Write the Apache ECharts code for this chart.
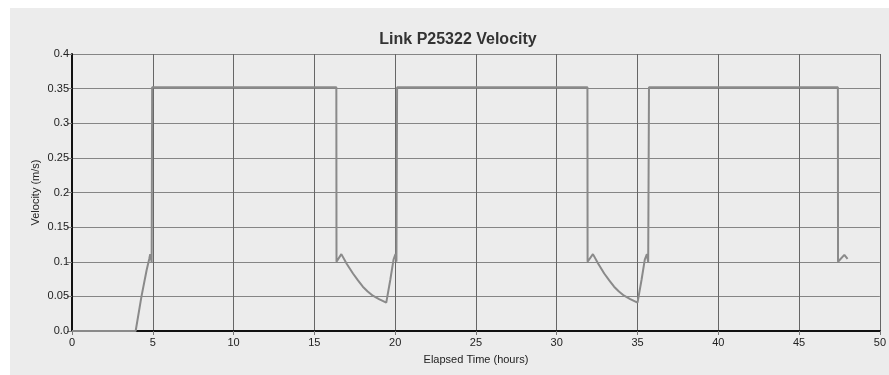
<!DOCTYPE html>
<html>
<head>
<meta charset="utf-8">
<style>
  html, body { margin: 0; padding: 0; background: #ffffff; }
  #chart { width: 889px; height: 375px; }
</style>
<script src="https://cdn.jsdelivr.net/npm/echarts@6/dist/echarts.min.js"></script>
</head>
<body>
<div id="chart"></div>
<script>
// Elapsed time (hours) and link velocity (m/s) samples
const timeHours = [
  0, 3.94, 4.3, 4.62, 4.78, 4.84, 4.93, 4.96,
  16.36, 16.37, 16.41, 16.67, 17.0, 17.39, 17.7, 18.0, 18.3, 18.62, 19.0, 19.45, 19.7, 19.9, 20.02, 20.08, 20.12,
  31.9, 31.91, 31.95, 32.24, 32.57, 32.94, 33.25, 33.55, 33.85, 34.17, 34.55, 35.0, 35.25, 35.45, 35.58, 35.66, 35.71,
  47.4, 47.41, 47.45, 47.8, 48.0
];
const velocity = [
  0, 0, 0.05, 0.088, 0.104, 0.111, 0.099, 0.352,
  0.352, 0.1, 0.1, 0.111, 0.097, 0.083, 0.073, 0.064, 0.057, 0.051, 0.046, 0.041, 0.074, 0.103, 0.111, 0.1, 0.352,
  0.352, 0.1, 0.1, 0.111, 0.097, 0.083, 0.073, 0.064, 0.057, 0.051, 0.046, 0.041, 0.074, 0.103, 0.111, 0.099, 0.352,
  0.352, 0.1, 0.1, 0.11, 0.104
];
const xTicks = { min: 0, max: 50, step: 5 };
const yTicks = { min: 0, max: 0.4, step: 0.05 };

const points = timeHours.map((t, i) => [t, velocity[i]]);

const chart = echarts.init(document.getElementById('chart'), null, { renderer: 'canvas' });
const font = '"Liberation Sans", Arial, Helvetica, sans-serif';

chart.setOption({
  animation: false,
  backgroundColor: '#ffffff',
  graphic: [{
    type: 'rect',
    z: -10,
    silent: true,
    shape: { x: 10, y: 8, width: 879, height: 367 },
    style: { fill: '#ececec' }
  }],
  title: {
    text: 'Link P25322 Velocity',
    left: 453,
    top: 27,
    textAlign: 'center',
    textStyle: { fontFamily: font, fontSize: 16, fontWeight: 'bold', color: '#333333' }
  },
  grid: { left: 72, top: 54, right: 8, bottom: 44, containLabel: false },
  xAxis: {
    type: 'value',
    min: xTicks.min,
    max: xTicks.max,
    interval: xTicks.step,
    name: 'Elapsed Time (hours)',
    nameLocation: 'middle',
    nameGap: 23,
    nameMoveOverlap: false,
    nameTextStyle: { fontFamily: font, fontSize: 11, color: '#222222' },
    axisLine: { lineStyle: { color: '#111111', width: 2 } },
    axisTick: { show: true, length: 4, lineStyle: { color: '#777777' } },
    axisLabel: { fontFamily: font, fontSize: 11, color: '#222222', margin: 6 },
    splitLine: { show: true, lineStyle: { color: '#666666', width: 1 } }
  },
  yAxis: {
    type: 'value',
    min: yTicks.min,
    max: yTicks.max,
    interval: yTicks.step,
    name: 'Velocity (m/s)',
    nameLocation: 'middle',
    nameGap: 31,
    nameMoveOverlap: false,
    nameTextStyle: { fontFamily: font, fontSize: 11, color: '#222222' },
    axisLine: { show: true, lineStyle: { color: '#111111', width: 2 } },
    axisTick: { show: true, length: 5, lineStyle: { color: '#777777' } },
    axisLabel: {
      fontFamily: font, fontSize: 11, color: '#222222', margin: 3,
      formatter: v => (v === 0 ? '0.0' : String(+v.toFixed(2)))
    },
    splitLine: { show: true, lineStyle: { color: '#858585', width: 1 } }
  },
  series: [{
    type: 'line',
    data: points,
    showSymbol: false,
    lineStyle: { color: '#8a8a8a', width: 2 },
    z: 3
  }]
});
</script>
</body>
</html>
